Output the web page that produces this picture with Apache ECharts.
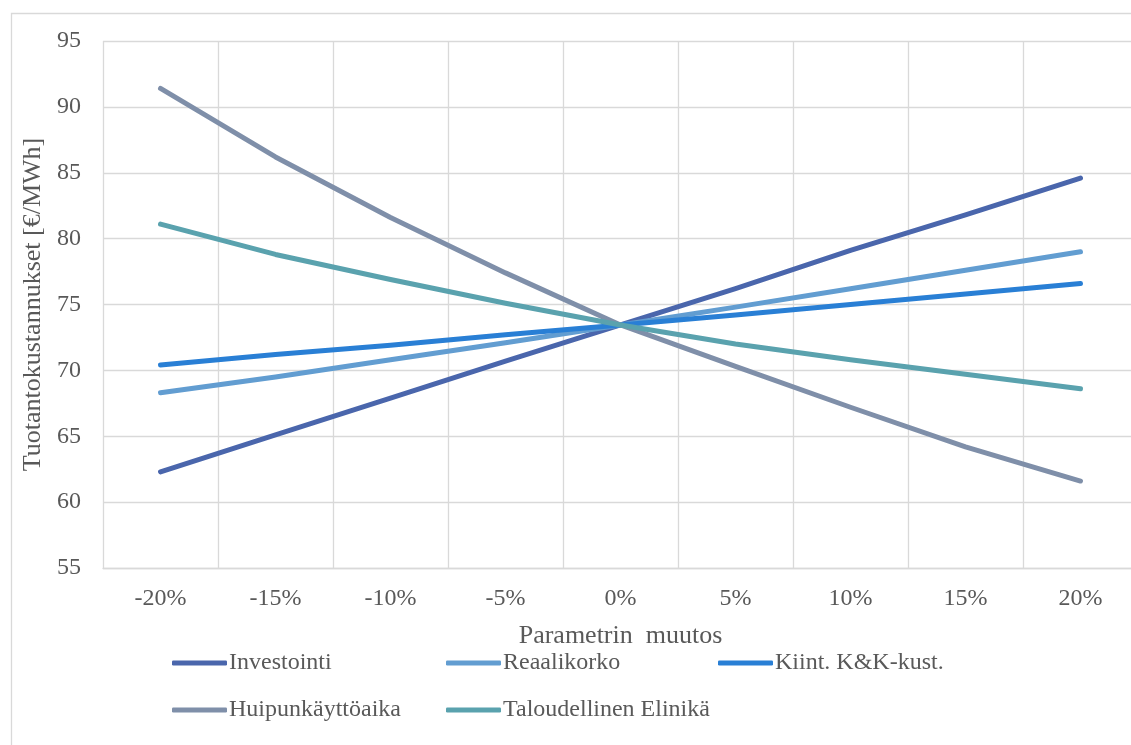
<!DOCTYPE html>
<html>
<head>
<meta charset="utf-8">
<script src="https://cdn.jsdelivr.net/npm/echarts@6/dist/echarts.min.js"></script>
<style>
  html, body { margin: 0; padding: 0; background: #ffffff; }
  #chart { width: 1131px; height: 745px; }
</style>
</head>
<body>
<div id="chart"></div>
<script>
// Parameter change (x axis categories)
const categories = ['-20%', '-15%', '-10%', '-5%', '0%', '5%', '10%', '15%', '20%'];

// Production cost [€/MWh] for each sensitivity parameter
const investointi = [62.3, 65.1, 67.9, 70.7, 73.45, 76.2, 79.1, 81.8, 84.6];
const reaalikorko = [68.3, 69.5, 70.8, 72.1, 73.45, 74.8, 76.2, 77.6, 79.0];
const kiintKK = [70.4, 71.2, 71.9, 72.7, 73.45, 74.2, 75.0, 75.8, 76.6];
const huipunkayttoaika = [91.4, 86.2, 81.6, 77.4, 73.45, 70.3, 67.2, 64.2, 61.6];
const taloudellinenElinika = [81.1, 78.8, 76.9, 75.1, 73.45, 72.0, 70.8, 69.7, 68.6];

const seriesNames = ['Investointi', 'Reaalikorko', 'Kiint. K&K-kust.', 'Huipunkäyttöaika', 'Taloudellinen Elinikä'];
const seriesData = [investointi, reaalikorko, kiintKK, huipunkayttoaika, taloudellinenElinika];
const seriesColors = ['#4a66ac', '#629dd1', '#297fd5', '#7f8fa9', '#5aa2ae'];

const FONT = '"Liberation Serif", "Times New Roman", serif';
const TEXT = '#595959';
const GRID = '#d9d9d9';

const chart = echarts.init(document.getElementById('chart'), null, { renderer: 'canvas' });

// Legend laid out in three columns, two rows
const legendBase = {
  orient: 'vertical',
  top: 651,
  padding: 0,
  icon: 'roundRect',
  itemWidth: 55,
  itemHeight: 5,
  itemGap: 23,
  selectedMode: false,
  textStyle: { fontFamily: FONT, fontSize: 24, color: TEXT, lineHeight: 24, padding: [0, 0, 0, -3] }
};

chart.setOption({
  animation: false,
  backgroundColor: '#ffffff',
  graphic: [{
    type: 'rect',
    left: 9, top: 11,
    shape: { width: 1200, height: 800 },
    style: { fill: 'none', stroke: GRID, lineWidth: 1.3 },
    silent: true
  }],
  grid: {
    left: 103, top: 41, right: -7, bottom: 177,
    outerBoundsMode: 'none'
  },
  legend: [
    Object.assign({}, legendBase, { left: 172, data: [seriesNames[0], seriesNames[3]] }),
    Object.assign({}, legendBase, { left: 446, data: [seriesNames[1], seriesNames[4]] }),
    Object.assign({}, legendBase, { left: 718, data: [seriesNames[2]] })
  ],
  xAxis: {
    type: 'category',
    data: categories,
    boundaryGap: true,
    name: 'Parametrin  muutos',
    nameLocation: 'middle',
    nameGap: 55,
    nameTextStyle: { fontFamily: FONT, fontSize: 26, color: TEXT },
    axisLine: { lineStyle: { color: GRID, width: 1.3 } },
    axisTick: { show: false },
    axisLabel: { fontFamily: FONT, fontSize: 24, color: TEXT, margin: 19 },
    splitLine: { show: true, lineStyle: { color: GRID, width: 1.3 } }
  },
  yAxis: {
    type: 'value',
    min: 55, max: 95, interval: 5,
    name: 'Tuotantokustannukset [€/MWh]',
    nameLocation: 'middle',
    nameGap: 47,
    nameTextStyle: { fontFamily: FONT, fontSize: 26, color: TEXT },
    axisLine: { show: false },
    axisTick: { show: false },
    axisLabel: { fontFamily: FONT, fontSize: 24, color: TEXT, margin: 22 },
    splitLine: { show: true, lineStyle: { color: GRID, width: 1.3 } }
  },
  series: seriesNames.map((name, i) => ({
    name: name,
    type: 'line',
    data: seriesData[i],
    symbol: 'none',
    smooth: false,
    color: seriesColors[i],
    itemStyle: { color: seriesColors[i] },
    lineStyle: { color: seriesColors[i], width: 5, cap: 'round', join: 'round' }
  }))
});
</script>
</body>
</html>
